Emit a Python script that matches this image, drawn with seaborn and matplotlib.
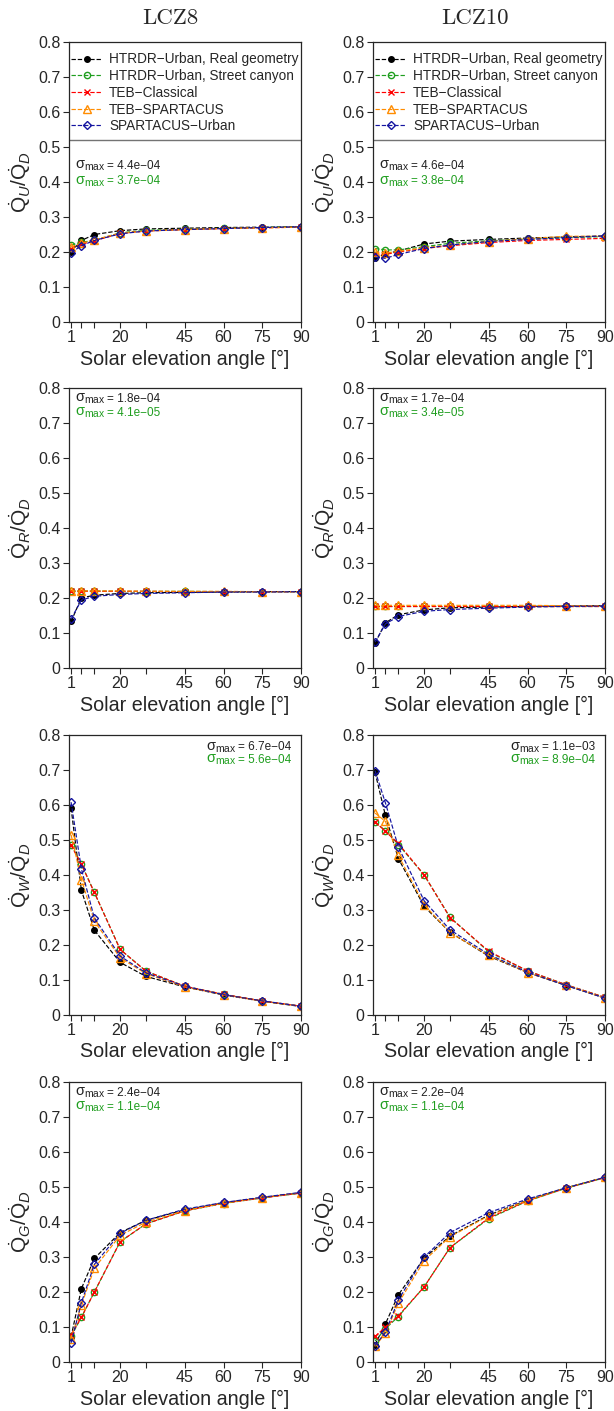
import numpy as np
import pandas as pd
import matplotlib
matplotlib.use("Agg")
import matplotlib.pyplot as plt
import seaborn as sns

# ---------------------------------------------------------
# Data
# ---------------------------------------------------------
angles = [1, 5, 10, 20, 30, 45, 60, 75, 90]

models = [
    "HTRDR\u2212Urban, Real geometry",
    "HTRDR\u2212Urban, Street canyon",
    "TEB\u2212Classical",
    "TEB\u2212SPARTACUS",
    "SPARTACUS\u2212Urban",
]

# rows follow the models order above
lcz8_qu = [
    [0.200, 0.233, 0.250, 0.261, 0.266, 0.268, 0.270, 0.271, 0.272],
    [0.220, 0.228, 0.233, 0.255, 0.262, 0.265, 0.268, 0.270, 0.272],
    [0.210, 0.222, 0.232, 0.253, 0.260, 0.264, 0.267, 0.269, 0.271],
    [0.215, 0.225, 0.235, 0.254, 0.260, 0.264, 0.267, 0.269, 0.271],
    [0.198, 0.218, 0.233, 0.252, 0.260, 0.264, 0.267, 0.270, 0.272],
]
lcz10_qu = [
    [0.183, 0.195, 0.203, 0.223, 0.231, 0.236, 0.240, 0.243, 0.246],
    [0.210, 0.206, 0.206, 0.215, 0.225, 0.232, 0.237, 0.241, 0.244],
    [0.195, 0.193, 0.200, 0.210, 0.218, 0.227, 0.233, 0.236, 0.239],
    [0.200, 0.197, 0.202, 0.212, 0.220, 0.230, 0.238, 0.245, 0.245],
    [0.185, 0.182, 0.193, 0.210, 0.220, 0.230, 0.236, 0.241, 0.246],
]
lcz8_qr = [
    [0.133, 0.200, 0.208, 0.213, 0.215, 0.216, 0.217, 0.218, 0.218],
    [0.220, 0.220, 0.220, 0.219, 0.219, 0.219, 0.218, 0.218, 0.218],
    [0.219, 0.219, 0.219, 0.219, 0.219, 0.218, 0.218, 0.218, 0.218],
    [0.220, 0.220, 0.220, 0.220, 0.219, 0.219, 0.219, 0.218, 0.218],
    [0.140, 0.194, 0.205, 0.210, 0.213, 0.215, 0.217, 0.217, 0.218],
]
lcz10_qr = [
    [0.071, 0.129, 0.152, 0.166, 0.172, 0.174, 0.176, 0.177, 0.178],
    [0.178, 0.178, 0.178, 0.178, 0.178, 0.178, 0.178, 0.178, 0.178],
    [0.177, 0.177, 0.177, 0.177, 0.177, 0.177, 0.177, 0.177, 0.177],
    [0.179, 0.179, 0.179, 0.179, 0.179, 0.179, 0.179, 0.178, 0.178],
    [0.074, 0.126, 0.147, 0.162, 0.167, 0.171, 0.174, 0.176, 0.177],
]
lcz8_qw = [
    [0.591, 0.356, 0.242, 0.150, 0.110, 0.080, 0.057, 0.039, 0.024],
    [0.487, 0.431, 0.350, 0.187, 0.125, 0.082, 0.059, 0.040, 0.025],
    [0.485, 0.430, 0.350, 0.187, 0.125, 0.082, 0.059, 0.040, 0.025],
    [0.515, 0.387, 0.268, 0.163, 0.118, 0.080, 0.058, 0.039, 0.025],
    [0.608, 0.417, 0.277, 0.168, 0.120, 0.082, 0.058, 0.040, 0.025],
]
lcz10_qw = [
    [0.693, 0.570, 0.447, 0.310, 0.236, 0.168, 0.121, 0.084, 0.048],
    [0.550, 0.527, 0.487, 0.400, 0.279, 0.180, 0.126, 0.086, 0.050],
    [0.552, 0.525, 0.490, 0.400, 0.278, 0.182, 0.126, 0.086, 0.050],
    [0.577, 0.553, 0.456, 0.315, 0.235, 0.170, 0.121, 0.085, 0.048],
    [0.698, 0.606, 0.480, 0.326, 0.243, 0.173, 0.122, 0.084, 0.048],
]
lcz8_qg = [
    [0.072, 0.210, 0.296, 0.370, 0.405, 0.435, 0.455, 0.470, 0.484],
    [0.073, 0.128, 0.200, 0.344, 0.395, 0.432, 0.453, 0.469, 0.483],
    [0.078, 0.128, 0.200, 0.344, 0.395, 0.432, 0.454, 0.469, 0.483],
    [0.065, 0.163, 0.268, 0.362, 0.400, 0.433, 0.454, 0.470, 0.484],
    [0.055, 0.170, 0.279, 0.368, 0.405, 0.437, 0.456, 0.471, 0.485],
]
lcz10_qg = [
    [0.050, 0.109, 0.192, 0.297, 0.360, 0.420, 0.463, 0.498, 0.528],
    [0.060, 0.095, 0.130, 0.215, 0.327, 0.410, 0.460, 0.497, 0.527],
    [0.073, 0.100, 0.132, 0.215, 0.327, 0.412, 0.461, 0.497, 0.527],
    [0.045, 0.082, 0.168, 0.290, 0.358, 0.418, 0.462, 0.498, 0.528],
    [0.047, 0.085, 0.177, 0.300, 0.370, 0.427, 0.466, 0.498, 0.528],
]

# sigma_max annotations (black, green) per panel
sigma_lcz8 = [("4.4e\u221204", "3.7e\u221204"), ("1.8e\u221204", "4.1e\u221205"),
              ("6.7e\u221204", "5.6e\u221204"), ("2.4e\u221204", "1.1e\u221204")]
sigma_lcz10 = [("4.6e\u221204", "3.8e\u221204"), ("1.7e\u221204", "3.4e\u221205"),
               ("1.1e\u221203", "8.9e\u221204"), ("2.2e\u221204", "1.1e\u221204")]

ylabels = [r"$\dot{\mathrm{Q}}_{U}/\dot{\mathrm{Q}}_{D}$",
           r"$\dot{\mathrm{Q}}_{R}/\dot{\mathrm{Q}}_{D}$",
           r"$\dot{\mathrm{Q}}_{W}/\dot{\mathrm{Q}}_{D}$",
           r"$\dot{\mathrm{Q}}_{G}/\dot{\mathrm{Q}}_{D}$"]

# ---------------------------------------------------------
# Style
# ---------------------------------------------------------
sns.set_style("ticks")
plt.rcParams["font.family"] = ["Liberation Sans", "DejaVu Sans"]
plt.rcParams["mathtext.fontset"] = "custom"
plt.rcParams["mathtext.rm"] = "Liberation Sans"
plt.rcParams["mathtext.it"] = "Liberation Sans:italic"
plt.rcParams["mathtext.bf"] = "Liberation Sans:bold"

green = "#1f9e1f"
colors = ["black", green, "red", "darkorange", "#1414a0"]
markers = ["o", "o", "x", "^", "D"]
mfcs = ["black", "none", "red", "none", "none"]
msizes = [4, 4.5, 5, 5.5, 4.5]

panels = [
    (lcz8_qu, lcz10_qu),
    (lcz8_qr, lcz10_qr),
    (lcz8_qw, lcz10_qw),
    (lcz8_qg, lcz10_qg),
]

sigma_label = "\u03c3$_{\\mathrm{max}}$"

fig = plt.figure(figsize=(6.14, 14.11), dpi=100)
lefts = [0.1124, 0.6075]
bottoms = [0.7718, 0.5266, 0.2807, 0.0347]
width, height = 0.378, 0.1984

for r, (left_data, right_data) in enumerate(panels):
    for c, data in enumerate((left_data, right_data)):
        ax = fig.add_axes([lefts[c], bottoms[r], width, height])
        for i, vals in enumerate(data):
            sns.lineplot(x=angles, y=vals, ax=ax, color=colors[i],
                         marker=markers[i], mfc=mfcs[i], mec=colors[i],
                         ms=msizes[i], mew=1.0, linestyle="--", lw=0.85,
                         dashes=(3, 2), legend=False)

        ax.set_xlim(0.2, 90)
        ax.set_ylim(0, 0.8)
        ax.set_xticks([1, 5, 10, 20, 30, 45, 60, 75, 90])
        ax.set_xticklabels(["1", "", "", "20", "", "45", "60", "75", "90"])
        ax.set_yticks(np.arange(0, 0.81, 0.1))
        ax.set_yticklabels(["0"] + [f"{v:.1f}" for v in np.arange(0.1, 0.81, 0.1)])
        ax.tick_params(labelsize=11.5, length=4, width=0.8, pad=2)
        for sp in ax.spines.values():
            sp.set_linewidth(0.9)
            sp.set_visible(True)
        ax.set_xlabel("Solar elevation angle [\u00b0]", fontsize=14.2, labelpad=3)
        ax.set_ylabel(ylabels[r], fontsize=15, labelpad=4)

        # sigma_max annotations: large sigma, smaller value text
        sig = (sigma_lcz8 if c == 0 else sigma_lcz10)[r]
        if r == 0:
            ys = (0.547, 0.492)
        elif r == 2:
            ys = (0.946, 0.901)
        else:
            ys = (0.951, 0.901)
        for val, col, yy in zip(sig, ["#222222", green], ys):
            if r == 2:
                ax.text(0.957, yy, "= " + val, transform=ax.transAxes,
                        fontsize=8.5, color=col, ha="right", va="baseline")
                ax.text(0.72, yy, sigma_label, transform=ax.transAxes,
                        fontsize=10.5, color=col, ha="right", va="baseline")
            else:
                ax.text(0.026, yy, sigma_label, transform=ax.transAxes,
                        fontsize=10.5, color=col, ha="left", va="baseline")
                ax.text(0.165, yy, "= " + val, transform=ax.transAxes,
                        fontsize=8.5, color=col, ha="left", va="baseline")

        if r == 0:
            ax.set_title("LCZ8" if c == 0 else "LCZ10", fontsize=16.5,
                         fontfamily="cmr10", pad=13, x=0.4375)
            leg = ax.legend(ax.lines[:5], models, loc="upper left",
                            bbox_to_anchor=(0.003, 0.968), borderaxespad=0,
                            frameon=False, fontsize=9.8, labelspacing=0.2,
                            handlelength=2.3, handletextpad=0.5,
                            borderpad=0.1)
            ax.axhline(0.52, color="0.45", lw=1.0)

fig.savefig("out.png", dpi=100)
plt.close(fig)
